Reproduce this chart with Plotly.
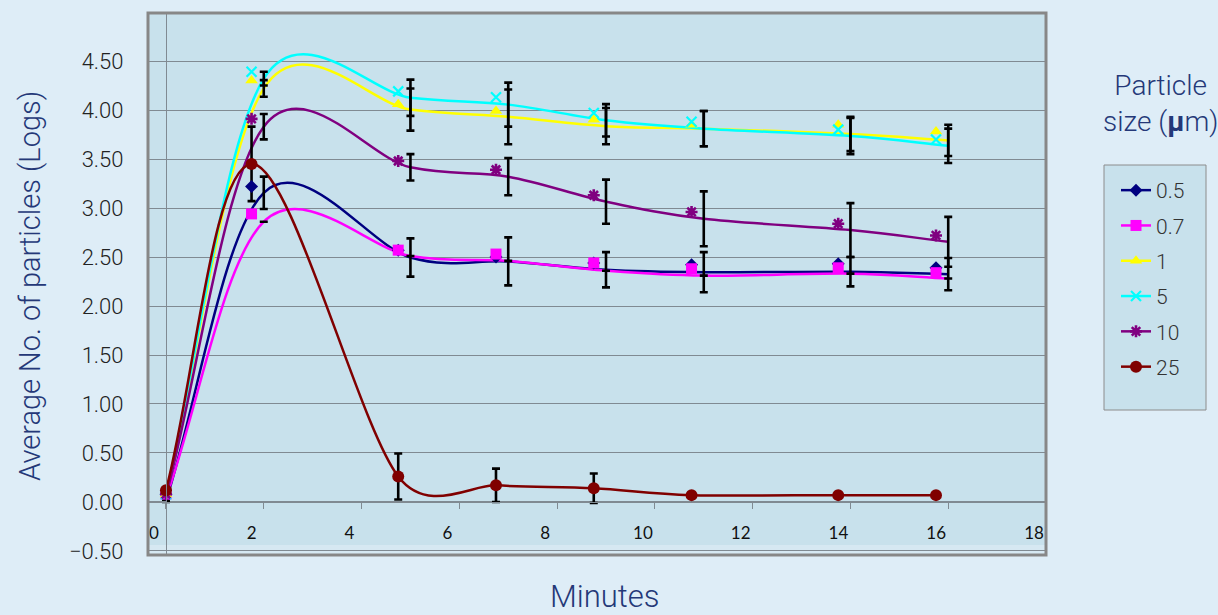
import math
import plotly.graph_objects as go

# ---------------- data ----------------
line_minutes = [0, 2, 5, 7, 9, 11, 14, 16]
marker_minutes = [0, 1.75, 4.75, 6.75, 8.75, 10.75, 13.75, 15.75]

size_labels = ["0.5", "0.7", "1", "5", "10", "25"]

line_05 = [0.01, 3.155, 2.495, 2.455, 2.37, 2.345, 2.35, 2.325]
err_05 = [0.01, 0.165, 0.195, 0.245, 0.18, 0.205, 0.15, 0.165]
mark_05 = [0.08, 3.22, 2.57, 2.50, 2.44, 2.42, 2.43, 2.39]

line_07 = [0.04, 2.86, 2.51, 2.46, 2.36, 2.31, 2.33, 2.28]
err_07 = [None] * 8
mark_07 = [0.08, 2.94, 2.57, 2.53, 2.44, 2.38, 2.39, 2.34]

line_1 = [0.07, 4.22, 4.005, 3.93, 3.835, 3.81, 3.755, 3.69]
err_1 = [None, 0.085, 0.215, 0.28, 0.185, 0.18, 0.175, 0.16]
mark_1 = [0.08, 4.30, 4.06, 3.99, 3.90, 3.85, 3.85, 3.78]

line_5 = [0.07, 4.32, 4.125, 4.055, 3.895, 3.81, 3.735, 3.635]
err_5 = [None, 0.07, 0.185, 0.225, 0.165, 0.18, 0.185, 0.175]
mark_5 = [0.08, 4.39, 4.19, 4.13, 3.97, 3.88, 3.80, 3.70]

line_10 = [0.06, 3.83, 3.415, 3.32, 3.065, 2.89, 2.775, 2.655]
err_10 = [None, 0.13, 0.135, 0.19, 0.225, 0.28, 0.275, 0.255]
mark_10 = [0.08, 3.91, 3.48, 3.39, 3.13, 2.96, 2.84, 2.72]

vals_25 = [0.12, 3.45, 0.26, 0.17, 0.14, 0.07, 0.07, 0.07]
err_25 = [None, 0.38, 0.235, 0.17, 0.15, None, None, None]

y_ticks = [-0.5, 0, 0.5, 1, 1.5, 2, 2.5, 3, 3.5, 4, 4.5]
x_ticks = [0, 2, 4, 6, 8, 10, 12, 14, 16, 18]

# ---------------- layout geometry / styles ----------------
W, H = 1218, 615
L, R, T, B = 148, 172, 13, 60
pw, ph = W - L - R, H - T - B
X_RANGE = [-0.368, 18]
Y_RANGE = [-0.541, 4.99]
SX = pw / (X_RANGE[1] - X_RANGE[0])   # px per minute
SY = ph / (Y_RANGE[1] - Y_RANGE[0])   # px per log unit

PAGE = "rgb(222,237,247)"
PLOT = "rgb(200,225,236)"
GRID = "rgb(128,138,146)"
NAVY_TXT = "rgb(36,56,120)"


def px(xp):
    return (xp - L) / pw


def py(yp):
    return (H - B - yp) / ph


def smooth_path(xs, ys):
    """Excel-style smoothed line (Bezier through every data point)."""
    P = [(x * SX, y * SY) for x, y in zip(xs, ys)]
    n = len(P)

    def dist(a, b):
        return math.hypot(a[0] - b[0], a[1] - b[1])

    parts = ["M %.5f,%.5f" % (xs[0], ys[0])]
    for i in range(n - 1):
        i0, i3 = max(i - 1, 0), min(i + 2, n - 1)
        d02, d12, d13 = dist(P[i0], P[i + 1]), dist(P[i], P[i + 1]), dist(P[i], P[i3])
        if d02 / 6 < d12 / 2 and d13 / 6 < d12 / 2:
            f1 = 1 / 6 if i0 != i else 1 / 3
            f2 = 1 / 6 if i3 != i + 1 else 1 / 3
        elif d02 / 6 >= d12 / 2 and d13 / 6 >= d12 / 2:
            f1, f2 = d12 / 2 / d02, d12 / 2 / d13
        elif d02 / 6 >= d12 / 2:
            f1 = f2 = d12 / 2 / d02
        else:
            f1 = f2 = d12 / 2 / d13
        c1x = xs[i] + (xs[i + 1] - xs[i0]) * f1
        c1y = ys[i] + (ys[i + 1] - ys[i0]) * f1
        c2x = xs[i + 1] - (xs[i3] - xs[i]) * f2
        c2y = ys[i + 1] - (ys[i3] - ys[i]) * f2
        parts.append("C %.5f,%.5f %.5f,%.5f %.5f,%.5f"
                     % (c1x, c1y, c2x, c2y, xs[i + 1], ys[i + 1]))
    return " ".join(parts)


series = [
    (line_minutes, line_05, err_05, mark_05, "#000080", "diamond", 10, 0),
    (line_minutes, line_07, err_07, mark_07, "#ff00ff", "square", 11, 0),
    (line_minutes, line_1, err_1, mark_1, "#ffff00", "triangle-up", 11, 0),
    (line_minutes, line_5, err_5, mark_5, "#00ffff", "x-thin-open", 10, 2.2),
    (line_minutes, line_10, err_10, mark_10, "#800080", "asterisk-open", 10, 2.6),
    (marker_minutes, vals_25, err_25, vals_25, "#800000", "circle", 12, 0),
]

fig = go.Figure()
line_shapes = []

for lx, ly, ey, my, col, sym, sz, mlw in series:
    line_shapes.append(dict(type="path", xref="x", yref="y", path=smooth_path(lx, ly),
                            line=dict(color=col, width=2.5), layer="between"))
    # error bars (centred on the line points)
    fig.add_trace(go.Scatter(
        x=lx, y=ly, mode="markers",
        marker=dict(size=1, color="rgba(0,0,0,0)"),
        error_y=dict(type="data", array=ey, visible=True, color="black",
                     thickness=2.6, width=4),
        showlegend=False, hoverinfo="skip"))

for lx, ly, ey, my, col, sym, sz, mlw in series:
    mk = dict(symbol=sym, size=sz, color=col)
    mk["line"] = dict(color=col, width=mlw) if mlw else dict(width=0)
    fig.add_trace(go.Scatter(
        x=marker_minutes, y=my, mode="markers", marker=mk,
        showlegend=False, hoverinfo="skip"))

# legend entries
for lab, s in zip(size_labels, series):
    col, sym, sz, mlw = s[4], s[5], s[6], s[7]
    mk = dict(symbol=sym, size=sz, color=col)
    mk["line"] = dict(color=col, width=mlw) if mlw else dict(width=0)
    fig.add_trace(go.Scatter(
        x=[None], y=[None], mode="lines+markers", name=lab, legendgroup=lab,
        line=dict(color=col, width=2.5), marker=mk))

fig.update_layout(
    width=W, height=H, autosize=False,
    margin=dict(l=L, r=R, t=T, b=B, pad=0),
    paper_bgcolor=PAGE, plot_bgcolor=PLOT,
    font=dict(family="Roboto", color="#222"),
    xaxis=dict(
        range=X_RANGE, tickvals=x_ticks, anchor="free",
        position=(555 - 502) / ph,
        showline=True, linecolor=GRID, linewidth=1.2,
        ticks="outside", ticklen=6, tickcolor=GRID, tickwidth=1,
        showgrid=False, zeroline=False,
        tickfont=dict(family="Lato", size=17, color="#111"),
        ticklabelstandoff=9, ticklabelshift=-12,
    ),
    yaxis=dict(
        range=Y_RANGE, tickvals=y_ticks, tickformat=".2f",
        anchor="free", position=(166 - L) / pw,
        showline=True, linecolor=GRID, linewidth=1.2,
        ticks="outside", ticklen=8, tickcolor=GRID,
        showgrid=True, gridcolor=GRID, gridwidth=1.2, zeroline=False,
        tickfont=dict(family="Roboto", size=22, color="#222", weight=300),
        ticklabelstandoff=30,
    ),
    legend=dict(
        xref="container", yref="container", x=1116 / W, y=1 - 170 / H,
        xanchor="left", yanchor="top", bgcolor="rgba(0,0,0,0)",
        borderwidth=0, traceorder="grouped", tracegroupgap=5,
        itemwidth=30, font=dict(family="Roboto", size=21, color="#333", weight=300),
    ),
    shapes=[
        dict(type="rect", xref="paper", yref="paper", x0=0, x1=1, y0=0,
             y1=(555 - 545) / ph, fillcolor="rgb(214,232,242)", line=dict(width=0),
             layer="below"),
        dict(type="rect", xref="paper", yref="paper", x0=px(1104), x1=px(1206),
             y0=py(410), y1=py(165), fillcolor=PLOT,
             line=dict(color="rgb(140,140,140)", width=1), layer="below"),
    ] + line_shapes + [
        dict(type="rect", xref="paper", yref="paper", x0=0, x1=1, y0=0, y1=1,
             line=dict(color="rgb(135,135,135)", width=3), layer="above"),
    ],
    annotations=[
        dict(text="Average No. of particles (Logs)", xref="paper", yref="paper",
             x=px(30), y=py(286), xanchor="center", yanchor="middle",
             textangle=-90, showarrow=False,
             font=dict(family="Roboto", size=29, color=NAVY_TXT, weight=300)),
        dict(text="Minutes", xref="paper", yref="paper", x=px(605), y=py(596),
             xanchor="center", yanchor="middle", showarrow=False,
             font=dict(family="Roboto", size=31, color=NAVY_TXT, weight=300)),
        dict(text="Particle<br>size (<b>μ</b>m)", xref="paper", yref="paper",
             x=px(1160), y=py(104), xanchor="center", yanchor="middle",
             showarrow=False, align="center",
             font=dict(family="Roboto", size=28, color=NAVY_TXT, weight=300)),
    ],
)

fig.write_html("out.html", config={"displayModeBar": False},
               post_script="document.body.style.margin='0';document.body.style.overflow='hidden';")
